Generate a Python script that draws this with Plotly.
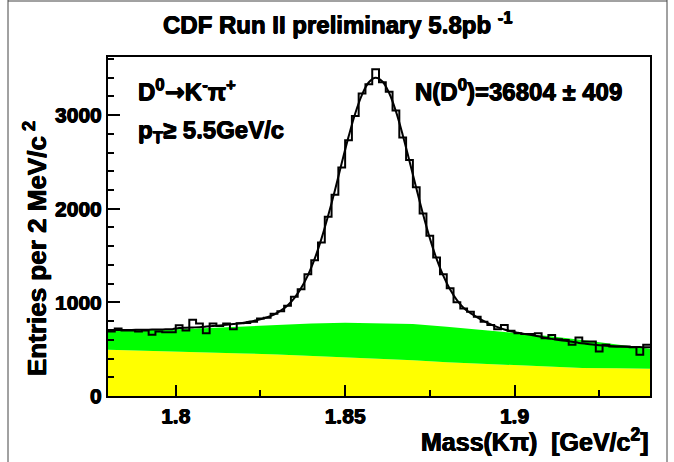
import plotly.graph_objects as go

# ---------------- data ----------------
mass_lo = 1.78
mass_hi = 1.94
bin_width = 0.002

# entries per 2 MeV/c^2, 80 bins from 1.78 to 1.94
counts = [
    690, 720, 700, 700, 690, 700, 655, 690, 680, 680,
    755, 700, 815, 775, 670, 775, 748, 775, 712, 778,
    780, 792, 828, 835, 878, 905, 965, 1060, 1140, 1300,
    1450, 1640, 1915, 2150, 2440, 2730, 2990, 3230, 3330, 3490,
    3350, 3250, 3050, 2760, 2520, 2230, 1950, 1710, 1480, 1300,
    1150, 1000, 935, 899, 846, 793, 758, 712, 758, 698,
    670, 663, 663, 670, 617, 652, 607, 599, 546, 624,
    581, 581, 475, 546, 528, 528, 528, 521, 440, 546,
]

# fit curve sampled at the bin centres (plus the two range ends)
fit_left_end = 704
fit_right_end = 521
fit_values = [
    705, 705, 706, 706, 707, 708, 709, 710, 712, 714,
    725, 729, 732, 735, 741, 748, 754, 761, 769, 777,
    789, 802, 819, 841, 870, 911, 967, 1046, 1152, 1288,
    1464, 1678, 1927, 2198, 2487, 2767, 3020, 3219, 3350, 3399,
    3359, 3235, 3039, 2788, 2508, 2221, 1941, 1686, 1464, 1283,
    1137, 1024, 940, 885, 840, 800, 765, 735, 710, 690,
    676, 663, 650, 638, 622, 610, 599, 589, 579, 567,
    558, 550, 543, 537, 532, 528, 525, 523, 522, 521,
]

# background bands (upper edges)
band_mass = [1.78, 1.79, 1.80, 1.81, 1.82, 1.83, 1.84, 1.85, 1.86,
             1.87, 1.88, 1.89, 1.90, 1.91, 1.92, 1.93, 1.94]
yellow_top = [493, 485, 476, 466, 455, 442, 428, 412, 395,
              381, 360, 345, 325, 310, 300, 295, 292]
green_top = [700, 705, 712, 725, 742, 760, 775, 782, 778,
             768, 740, 708, 675, 640, 598, 548, 505]

x_tick_vals = [1.8, 1.85, 1.9]
x_tick_text = ["1.8", "1.85", "1.9"]
y_tick_vals = [0, 1000, 2000, 3000]
y_tick_text = ["0", "1000", "2000", "3000"]
y_max = 3620

# ---------------- derived ----------------
n_bins = len(counts)
edges = [mass_lo + bin_width * i for i in range(n_bins + 1)]
centers = [mass_lo + bin_width * (i + 0.5) for i in range(n_bins)]

# ---------------- layout geometry (pixels) ----------------
W, H = 674, 462
L, R, T, B = 108, 650, 57, 396


def px(x):
    return (x - L) / (R - L)


def py(y):
    return (B - y) / (B - T)


FONT = "Liberation Sans, Arial, Helvetica, sans-serif"
HEAVY = "0.5px 0 0 black, -0.5px 0 0 black, 0 0.5px 0 black"

fig = go.Figure()

fig.add_trace(go.Scatter(
    x=band_mass, y=yellow_top, mode="lines", line=dict(width=0, color="#ffff00"),
    fill="tozeroy", fillcolor="#ffff00", hoverinfo="skip", showlegend=False))
fig.add_trace(go.Scatter(
    x=band_mass, y=green_top, mode="lines", line=dict(width=0, color="#00ff00"),
    fill="tonexty", fillcolor="#00ff00", hoverinfo="skip", showlegend=False))

fig.add_trace(go.Scatter(
    x=edges, y=counts + [counts[-1]], mode="lines", line_shape="hv",
    line=dict(color="black", width=2), showlegend=False))

fig.add_trace(go.Scatter(
    x=[mass_lo] + centers + [mass_hi],
    y=[fit_left_end] + fit_values + [fit_right_end],
    mode="lines", line_shape="spline",
    line=dict(color="black", width=2), showlegend=False))

tickfont = dict(family=FONT, size=21, color="black", weight="bold", shadow=HEAVY)

fig.update_layout(
    width=W, height=H,
    margin=dict(l=L, r=W - R, t=T, b=H - B),
    paper_bgcolor="white", plot_bgcolor="white",
    xaxis=dict(
        range=[mass_lo, mass_hi], tickvals=x_tick_vals, ticktext=x_tick_text,
        ticks="inside", ticklen=11, tickwidth=2, tickcolor="black",
        minor=dict(ticks="inside", ticklen=6, tickwidth=2, tickcolor="black",
                   tick0=1.775, dtick=0.025, showgrid=False),
        showline=True, linewidth=2, linecolor="black", mirror=True,
        showgrid=False, zeroline=False, tickfont=tickfont,
    ),
    yaxis=dict(
        range=[0, y_max], tickvals=y_tick_vals, ticktext=y_tick_text,
        ticks="inside", ticklen=12, tickwidth=2, tickcolor="black",
        minor=dict(ticks="inside", ticklen=6, tickwidth=2, tickcolor="black",
                   tick0=0, dtick=200, showgrid=False),
        showline=True, linewidth=2, linecolor="black", mirror=True,
        showgrid=False, zeroline=False, tickfont=tickfont,
    ),
)

txt = dict(family=FONT, size=24, color="black", weight="bold", shadow=HEAVY)
axt = dict(family=FONT, size=25, color="black", weight="bold", shadow=HEAVY)
ayt = dict(family=FONT, size=26, color="black", weight="bold", shadow=HEAVY)
arrow = '<span style="font-family:DejaVu Sans">→</span>'
ann = [
    dict(text="CDF Run II preliminary 5.8pb <sup>-1</sup>", x=px(338), y=py(23),
         xanchor="center", yanchor="middle", font=txt),
    dict(text="D<sup>0</sup>" + arrow + "K<sup>-</sup>π<sup>+</sup>", x=px(136), y=py(90),
         xanchor="left", yanchor="middle", font=txt),
    dict(text="p<sub>T</sub>≥ 5.5GeV/c", x=px(136), y=py(131),
         xanchor="left", yanchor="middle", font=txt),
    dict(text="N(D<sup>0</sup>)=36804 ± 409", x=px(413), y=py(90),
         xanchor="left", yanchor="middle", font=txt),
    dict(text="Mass(Kπ)\u00a0\u00a0[GeV/c<sup>2</sup>]", x=px(651), y=py(440),
         xanchor="right", yanchor="middle", font=axt),
    dict(text="Entries per 2 MeV/c<sup>\u00a02</sup>", x=px(35), y=py(249),
         xanchor="center", yanchor="middle", textangle=-90, font=ayt),
]
for a in ann:
    a.update(xref="paper", yref="paper", showarrow=False)
fig.update_layout(annotations=ann)

# outer canvas border
for x0, y0, x1, y1 in [(8, 0, 8, 462), (8, 1, 667, 1), (667, 0, 667, 462)]:
    fig.add_shape(type="line", xref="paper", yref="paper",
                  x0=px(x0), y0=py(y0), x1=px(x1), y1=py(y1),
                  line=dict(color="#444444", width=1))

fig.write_html("out.html")
